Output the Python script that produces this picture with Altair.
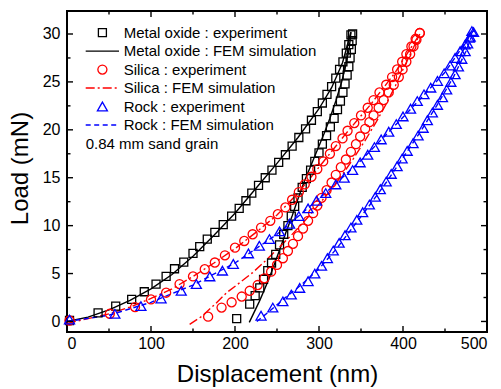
import altair as alt
import pandas as pd

# ---------------- data ----------------
mo_load_x = [3, 37, 58, 77, 92, 106, 118, 128, 139, 150, 158, 167, 176, 186, 196, 205, 213, 220, 228, 236,
             244, 252, 260, 268, 276, 284, 291, 298, 304, 309.5, 315, 320, 324.5, 328.5, 332.5, 335.5, 338]
mo_load_y = [0.1, 0.9, 1.6, 2.3, 3.1, 3.9, 4.7, 5.5, 6.2, 7.1, 7.8, 8.6, 9.3, 10.1, 11.0, 11.8, 12.6, 13.4, 14.2, 15.0,
             15.8, 16.6, 17.4, 18.3, 19.2, 20.1, 21.0, 21.9, 22.8, 23.7, 24.5, 25.4, 26.3, 27.1, 28.0, 28.9, 29.9]
mo_unl_x = [202, 217.5, 224, 229.5, 234, 239, 243.5, 248.5, 253, 258, 263, 267, 271, 275, 280, 285, 290, 295, 300, 304,
            309, 313.5, 318, 322, 325.5, 328.5, 331, 333.5, 335.5, 337, 338.5, 339.5, 340]
mo_unl_y = [0.3, 1.8, 2.7, 3.5, 4.4, 5.3, 6.1, 7.0, 8.0, 9.1, 10.0, 11.0, 12.0, 12.9, 14.0, 14.9, 15.8, 16.7, 17.6, 18.5,
            19.4, 20.3, 21.2, 22.1, 23.0, 23.9, 24.8, 25.7, 26.6, 27.5, 28.4, 29.3, 30.0]
mo_fem_load_x = [0, 25, 50, 75, 100, 125, 150, 175, 200, 225, 250, 275, 300, 315, 328, 338]
mo_fem_load_y = [0, 0.45, 1.2, 2.2, 3.4, 4.9, 6.8, 9.0, 11.3, 13.9, 16.5, 19.2, 22.2, 24.4, 27.0, 30.2]
mo_fem_unl_x = [217, 223, 229, 235, 241, 247, 254, 261, 268, 275, 282, 290, 298, 306, 313, 320, 327, 332, 336, 338]
mo_fem_unl_y = [-0.1, 1.0, 2.1, 3.3, 4.6, 6.0, 7.7, 9.4, 11.0, 12.8, 14.5, 16.2, 17.9, 19.6, 21.2, 23.0, 25.0, 26.8, 28.5, 30.2]

si_load_x = [3, 51, 81, 100, 118, 134, 150, 164, 176, 188, 200, 211, 221, 231, 242, 251, 260, 268, 276, 283,
             291, 298, 305, 313, 320, 328, 334, 342, 350, 358, 365, 372, 380, 387, 393, 399, 404, 410, 415, 420]
si_load_y = [0.1, 0.8, 1.5, 2.3, 3.0, 3.9, 4.7, 5.45, 6.15, 6.9, 7.7, 8.4, 9.1, 9.8, 10.5, 11.2, 11.9, 12.7, 13.5, 14.3,
             15.1, 15.9, 16.7, 17.5, 18.3, 19.1, 19.9, 20.7, 21.5, 22.3, 23.1, 23.9, 24.7, 25.5, 26.3, 27.1, 27.9, 28.7, 29.5, 30.1]
si_unl_x = [168, 184, 196, 208, 217.5, 227, 235, 243, 250, 257, 263, 269, 275, 281, 287, 293, 298, 303, 309, 315,
            320, 326, 332, 338, 344, 349, 355, 360, 365, 371, 377, 383, 389, 395, 399.5, 404, 408.5, 412.5, 416, 420]
si_unl_y = [0.5, 1.45, 2.0, 2.6, 3.2, 3.8, 4.5, 5.2, 5.9, 6.6, 7.35, 8.1, 8.9, 9.7, 10.5, 11.3, 12.1, 12.9, 13.7, 14.5,
            15.3, 16.1, 16.9, 17.7, 18.5, 19.3, 20.1, 20.8, 21.5, 22.3, 23.1, 23.9, 24.7, 25.5, 26.3, 27.1, 27.9, 28.7, 29.4, 30.1]
si_fem_load_x = [0, 25, 50, 75, 100, 125, 150, 175, 200, 225, 250, 275, 300, 331, 362, 390, 420]
si_fem_load_y = [-0.2, 0.3, 0.8, 1.5, 2.4, 3.4, 4.7, 6.1, 7.6, 9.3, 11.1, 13.4, 16.1, 19.5, 22.7, 25.9, 30.0]
si_fem_unl_x = [146, 160, 175, 190, 205, 221, 236, 251, 266, 281, 296, 311, 326, 341, 355, 368, 380, 391, 401, 411, 420]
si_fem_unl_y = [-0.3, 0.5, 1.7, 3.0, 4.0, 5.1, 6.3, 7.6, 8.9, 10.3, 11.8, 13.4, 15.1, 17.0, 18.9, 20.8, 22.7, 24.6, 26.5, 28.3, 30.0]

rk_load_x = [3, 57, 88, 112, 136, 154, 170, 185, 198, 216, 229, 241, 253, 265, 276, 287, 297, 308, 320, 330,
             340, 349, 358, 366, 374, 383, 392, 400, 409, 417, 425, 433, 441, 449, 456, 462, 468, 474, 479, 484]
rk_load_y = [0.2, 0.8, 1.6, 2.4, 3.2, 3.9, 4.7, 5.3, 6.0, 7.1, 7.9, 8.6, 9.4, 10.2, 11.0, 11.8, 12.6, 13.4, 14.3, 15.0,
             15.8, 16.6, 17.4, 18.2, 19.0, 19.8, 20.6, 21.4, 22.2, 23.0, 23.7, 24.4, 25.1, 25.9, 26.7, 27.5, 28.2, 28.9, 29.6, 30.2]
rk_unl_x = [231, 245, 257, 267, 277, 287, 295, 303, 310, 317, 324, 331, 338, 345, 352, 360, 367, 373, 380, 386,
            393, 399, 405, 412, 418, 424, 429, 435, 441, 447, 452, 457, 462, 466, 470, 474, 477, 480, 482]
rk_unl_y = [0.6, 1.45, 2.1, 2.8, 3.5, 4.2, 5.0, 5.8, 6.6, 7.4, 8.2, 9.0, 9.8, 10.6, 11.4, 12.2, 13.0, 13.8, 14.6, 15.4,
            16.2, 17.0, 17.8, 18.6, 19.4, 20.2, 21.0, 21.8, 22.6, 23.4, 24.2, 25.0, 25.8, 26.6, 27.4, 28.2, 29.0, 29.7, 30.3]
rk_fem_load_x = [0, 50, 100, 150, 200, 250, 300, 350, 400, 450, 485]
rk_fem_load_y = [0, 0.65, 2.0, 3.8, 6.1, 9.1, 12.8, 16.8, 21.3, 26.0, 30.5]
rk_fem_unl_x = [226, 240, 260, 280, 300, 320, 340, 360, 380, 400, 420, 440, 460, 475, 485]
rk_fem_unl_y = [0, 1.0, 2.5, 3.9, 5.5, 7.5, 9.8, 12.1, 14.5, 17.1, 19.7, 22.5, 25.5, 28.2, 30.5]

x_major = [0, 100, 200, 300, 400, 500]
x_minor = [50, 150, 250, 350, 450]
y_major = [0, 5, 10, 15, 20, 25, 30]
y_minor = [2.5, 7.5, 12.5, 17.5, 22.5, 27.5]

legend_labels = ["Metal oxide : experiment", "Metal oxide : FEM simulation",
                 "Silica : experiment", "Silica : FEM simulation",
                 "Rock : experiment", "Rock : FEM simulation"]
note_text = "0.84 mm sand grain"

# ---------------- styling ----------------
W, H = 420, 321
FONT = "Liberation Sans"
BLACK, RED, BLUE = "#000000", "#ff0000", "#0000ff"
RED_DASH = [9, 3, 2, 3]
BLUE_DASH = [5, 3.5]
SQ, CI, TR = 64, 82, 100
MSW = 1.3

xs = alt.Scale(domain=[0, 500], nice=False, zero=False)
ys = alt.Scale(domain=[-1.1, 32.4], nice=False, zero=False)

x_axis = alt.Axis(values=x_major, title="Displacement (nm)", titleFontSize=24, titleFont=FONT,
                  titleFontWeight="normal", titleColor="black", labelFontSize=16, labelFont=FONT,
                  labelColor="black", ticks=False, tickSize=0, domain=False, grid=False,
                  labelPadding=3, titleBaseline="alphabetic", titleY=49, format="d")
y_axis = alt.Axis(values=y_major, title="Load (mN)", titleFontSize=24, titleFont=FONT,
                  titleFontWeight="normal", titleColor="black", labelFontSize=16, labelFont=FONT,
                  labelColor="black", ticks=False, tickSize=0, domain=False, grid=False,
                  labelPadding=7, titleBaseline="alphabetic", titleX=-40, titleY=157, format="d")


def X(field):
    return alt.X(field, scale=xs, axis=x_axis)


def Y(field):
    return alt.Y(field, scale=ys, axis=y_axis)


def xy(xv, yv):
    return pd.DataFrame({"x": xv, "y": yv, "i": list(range(len(xv)))})


def pts(xv, yv, shape, color, size):
    return alt.Chart(xy(xv, yv)).mark_point(shape=shape, filled=False, color=color, size=size,
                                             strokeWidth=MSW, opacity=1).encode(
        x=X("x:Q"), y=Y("y:Q"))


def line(xv, yv, color, dash=None):
    kw = dict(color=color, strokeWidth=1.4)
    if dash:
        kw["strokeDash"] = dash
    return alt.Chart(xy(xv, yv)).mark_line(**kw).encode(
        x=X("x:Q"), y=Y("y:Q"), order=alt.Order("i:Q"))


# inward ticks on all four sides
def vticks(vals, top, length):
    df = pd.DataFrame({"x": vals})
    y0 = 0 if top else H
    y1 = length if top else H - length
    return alt.Chart(df).mark_rule(color="black", strokeWidth=1.4).encode(
        x=X("x:Q"), y=alt.value(y0), y2=alt.value(y1))


def hticks(vals, right, length):
    df = pd.DataFrame({"y": vals})
    x0 = W if right else 0
    x1 = W - length if right else length
    return alt.Chart(df).mark_rule(color="black", strokeWidth=1.4).encode(
        y=Y("y:Q"), x=alt.value(x0), x2=alt.value(x1))


ticks = [vticks(x_major, False, 6), vticks(x_minor, False, 3.5),
         vticks(x_major, True, 6), vticks(x_minor, True, 3.5),
         hticks(y_major, False, 6), hticks(y_minor, False, 3.5),
         hticks(y_major, True, 6), hticks(y_minor, True, 3.5)]

curves = [
    line(mo_fem_load_x, mo_fem_load_y, BLACK), line(mo_fem_unl_x, mo_fem_unl_y, BLACK),
    line(si_fem_load_x, si_fem_load_y, RED, RED_DASH), line(si_fem_unl_x, si_fem_unl_y, RED, RED_DASH),
    line(rk_fem_load_x, rk_fem_load_y, BLUE, BLUE_DASH), line(rk_fem_unl_x, rk_fem_unl_y, BLUE, BLUE_DASH),
]
markers = [
    pts(mo_load_x, mo_load_y, "square", BLACK, SQ), pts(mo_unl_x, mo_unl_y, "square", BLACK, SQ),
    pts(si_load_x, si_load_y, "circle", RED, CI), pts(si_unl_x, si_unl_y, "circle", RED, CI),
    pts(rk_load_x, rk_load_y, "triangle-up", BLUE, TR), pts(rk_unl_x, rk_unl_y, "triangle-up", BLUE, TR),
]

# legend drawn inside the plot
one = pd.DataFrame({"k": [0]})
row_y = [21.7 + 18.45 * i for i in range(6)]
LX_SYM, LX0, LX1, LX_TXT = 35.4, 18.7, 52, 56.7
legend = []
for i, lab in enumerate(legend_labels):
    legend.append(alt.Chart(pd.DataFrame({"t": [lab]})).mark_text(
        align="left", baseline="middle", fontSize=15, font=FONT, color="black").encode(
        text="t:N", x=alt.value(LX_TXT), y=alt.value(row_y[i])))
sym = [("square", BLACK, SQ), ("circle", RED, CI), ("triangle-up", BLUE, TR)]
for k, (shape, color, size) in enumerate(sym):
    legend.append(alt.Chart(one).mark_point(shape=shape, filled=False, color=color, size=size,
                                            strokeWidth=MSW, opacity=1).encode(
        x=alt.value(LX_SYM), y=alt.value(row_y[2 * k])))
lin = [(BLACK, None), (RED, RED_DASH), (BLUE, BLUE_DASH)]
for k, (color, dash) in enumerate(lin):
    kw = dict(color=color, strokeWidth=1.4)
    if dash:
        kw["strokeDash"] = dash
    legend.append(alt.Chart(one).mark_rule(**kw).encode(
        x=alt.value(LX0), x2=alt.value(LX1), y=alt.value(row_y[2 * k + 1])))
legend.append(alt.Chart(pd.DataFrame({"t": [note_text]})).mark_text(
    align="left", baseline="middle", fontSize=15, font=FONT, color="black").encode(
    text="t:N", x=alt.value(LX0), y=alt.value(133)))

chart = alt.layer(*curves, *markers, *ticks, *legend).properties(
    width=W, height=H,
    autosize=alt.AutoSizeParams(type="none"),
    padding={"left": 67, "top": 11, "right": 14, "bottom": 57},
    background="white",
).configure(font=FONT).configure_view(stroke="black", strokeWidth=2)

chart.save("out.html", embed_options={"renderer": "svg", "actions": False})
